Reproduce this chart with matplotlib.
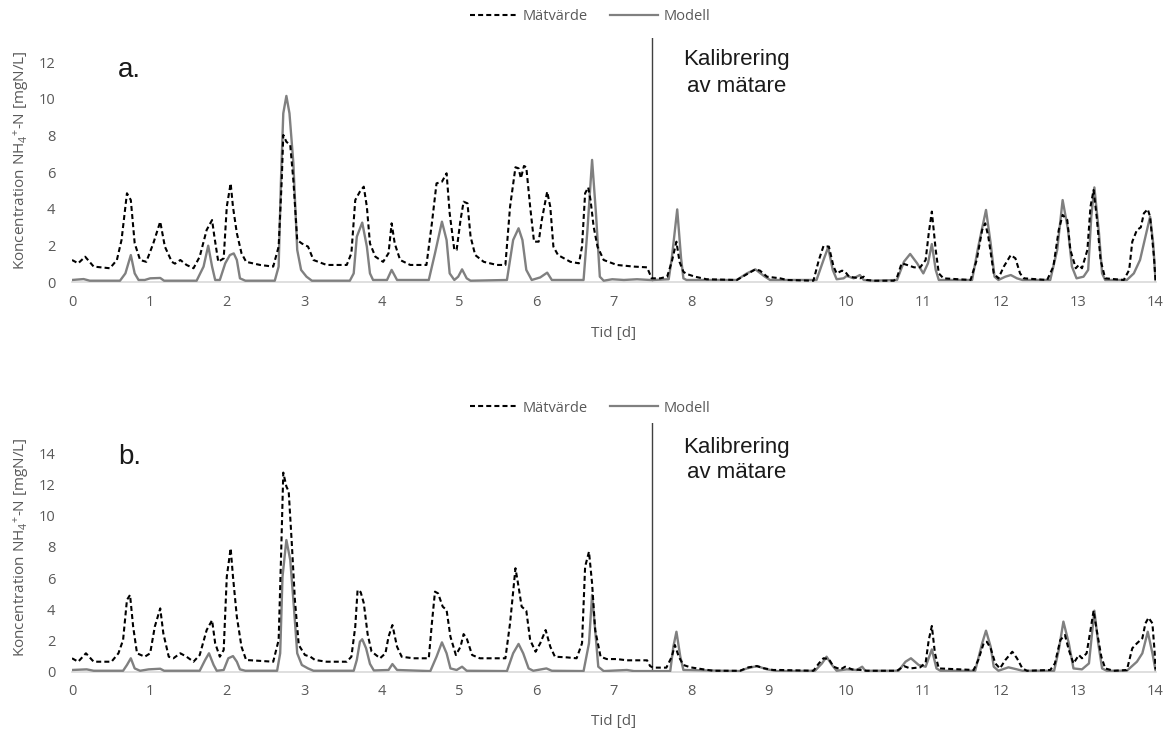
import matplotlib
matplotlib.use("Agg")
import matplotlib.pyplot as plt
from matplotlib.lines import Line2D

plt.rcParams["font.family"] = ["Open Sans", "DejaVu Sans"]
plt.rcParams["mathtext.default"] = "regular"

# ---- data: (time [d], concentration [mgN/L]) ----
a_meas = [(0.0, 1.2), (0.08, 1.02), (0.17, 1.38), (0.28, 0.84), (0.49, 0.75), (0.58, 1.2), (0.64, 2.29),
          (0.71, 4.84), (0.76, 4.47), (0.81, 2.11), (0.88, 1.2), (0.96, 1.1), (1.05, 2.1), (1.14, 3.29),
          (1.2, 1.93), (1.29, 1.1), (1.33, 1.0), (1.40, 1.2), (1.48, 0.93), (1.57, 0.75), (1.65, 1.38),
          (1.74, 2.84), (1.81, 3.38), (1.84, 2.47), (1.89, 1.1), (1.96, 1.29), (2.0, 4.11), (2.05, 5.38),
          (2.08, 4.1), (2.13, 2.66), (2.19, 1.57), (2.25, 1.1), (2.43, 0.93), (2.60, 0.84), (2.67, 1.93),
          (2.71, 5.56), (2.73, 8.02), (2.77, 7.65), (2.82, 7.47), (2.86, 5.56), (2.91, 2.29), (2.97, 2.1),
          (3.05, 1.93), (3.12, 1.2), (3.29, 0.93), (3.55, 0.93), (3.61, 1.57), (3.66, 4.47), (3.72, 4.93),
          (3.77, 5.2), (3.81, 4.1), (3.85, 2.1), (3.92, 1.38), (4.02, 1.1), (4.09, 1.57), (4.13, 3.2),
          (4.17, 2.1), (4.24, 1.2), (4.37, 0.93), (4.58, 0.93), (4.65, 3.2), (4.71, 5.38), (4.78, 5.47),
          (4.84, 5.93), (4.88, 3.75), (4.94, 1.75), (4.97, 1.75), (5.02, 3.38), (5.06, 4.38), (5.11, 4.29),
          (5.15, 2.47), (5.21, 1.47), (5.32, 1.1), (5.49, 0.93), (5.60, 0.93), (5.66, 4.1), (5.73, 6.26),
          (5.77, 6.2), (5.80, 5.66), (5.84, 6.33), (5.87, 6.26), (5.92, 4.1), (5.97, 2.2), (6.03, 2.2),
          (6.07, 3.38), (6.14, 4.93), (6.18, 4.1), (6.22, 1.93), (6.28, 1.47), (6.44, 1.1), (6.55, 1.02),
          (6.59, 1.93), (6.63, 4.84), (6.67, 5.16), (6.70, 4.47), (6.74, 3.02), (6.79, 1.93), (6.87, 1.2),
          (7.04, 0.93), (7.26, 0.84), (7.43, 0.8), (7.49, 0.2), (7.60, 0.2), (7.69, 0.29), (7.75, 1.11),
          (7.81, 2.2), (7.85, 1.1), (7.90, 0.56), (7.94, 0.44), (8.05, 0.29), (8.20, 0.15), (8.59, 0.11),
          (8.68, 0.33), (8.83, 0.69), (8.89, 0.62), (8.98, 0.29), (9.15, 0.2), (9.24, 0.11), (9.58, 0.07),
          (9.65, 1.2), (9.71, 1.96), (9.78, 1.93), (9.84, 0.84), (9.88, 0.47), (9.95, 0.62), (9.99, 0.56),
          (10.04, 0.29), (10.10, 0.25), (10.18, 0.2), (10.23, 0.29), (10.27, 0.11), (10.36, 0.07),
          (10.62, 0.07), (10.66, 0.25), (10.72, 1.02), (10.79, 0.93), (10.88, 0.8), (10.96, 0.8),
          (11.03, 1.2), (11.07, 2.66), (11.11, 3.84), (11.16, 1.75), (11.20, 0.47), (11.26, 0.2),
          (11.61, 0.11), (11.69, 1.2), (11.76, 2.84), (11.80, 3.2), (11.84, 2.47), (11.91, 0.47),
          (11.97, 0.2), (12.04, 0.84), (12.13, 1.47), (12.19, 1.29), (12.25, 0.47), (12.30, 0.2),
          (12.60, 0.11), (12.68, 0.84), (12.75, 2.84), (12.80, 3.66), (12.86, 3.38), (12.90, 1.75),
          (12.97, 0.75), (13.01, 0.93), (13.05, 0.75), (13.12, 1.75), (13.16, 4.11), (13.20, 5.02),
          (13.24, 3.56), (13.29, 1.2), (13.35, 0.2), (13.59, 0.11), (13.66, 0.66), (13.70, 2.2),
          (13.76, 2.84), (13.81, 2.98), (13.85, 3.75), (13.90, 3.97), (13.93, 3.56), (13.98, 1.38),
          (14.0, 0.1)]

a_model = [(0.0, 0.11), (0.15, 0.16), (0.23, 0.07), (0.62, 0.07), (0.69, 0.47), (0.76, 1.47), (0.81, 0.47),
           (0.86, 0.11), (0.94, 0.11), (1.01, 0.2), (1.14, 0.22), (1.19, 0.07), (1.61, 0.07), (1.70, 0.84),
           (1.76, 1.98), (1.81, 0.84), (1.85, 0.11), (1.91, 0.11), (1.98, 1.02), (2.04, 1.47), (2.09, 1.56),
           (2.13, 1.2), (2.17, 0.2), (2.24, 0.07), (2.62, 0.07), (2.67, 0.84), (2.70, 5.56), (2.73, 9.2),
           (2.77, 10.15), (2.81, 9.2), (2.86, 6.5), (2.91, 1.75), (2.96, 0.66), (3.03, 0.29), (3.10, 0.07),
           (3.59, 0.07), (3.64, 0.47), (3.68, 2.47), (3.75, 3.24), (3.81, 1.93), (3.85, 0.47), (3.89, 0.11),
           (4.07, 0.11), (4.13, 0.66), (4.20, 0.11), (4.61, 0.11), (4.69, 1.56), (4.78, 3.29), (4.84, 2.29),
           (4.88, 0.47), (4.94, 0.11), (4.99, 0.29), (5.04, 0.69), (5.10, 0.2), (5.15, 0.07), (5.62, 0.11),
           (5.70, 2.29), (5.77, 2.93), (5.82, 2.29), (5.87, 0.66), (5.94, 0.11), (6.05, 0.25), (6.14, 0.51),
           (6.20, 0.11), (6.61, 0.11), (6.66, 2.84), (6.72, 6.66), (6.77, 3.75), (6.82, 0.29), (6.87, 0.07),
           (6.98, 0.15), (7.13, 0.11), (7.30, 0.15), (7.47, 0.11), (7.51, 0.11), (7.71, 0.15), (7.75, 1.29),
           (7.82, 3.96), (7.87, 1.29), (7.90, 0.2), (7.94, 0.11), (8.59, 0.11), (8.72, 0.47), (8.83, 0.69),
           (8.94, 0.33), (9.02, 0.11), (9.62, 0.11), (9.71, 1.2), (9.77, 1.89), (9.83, 0.66), (9.88, 0.15),
           (9.97, 0.2), (10.01, 0.33), (10.10, 0.2), (10.18, 0.38), (10.23, 0.11), (10.36, 0.07),
           (10.66, 0.11), (10.75, 1.11), (10.83, 1.53), (10.92, 1.02), (11.00, 0.47), (11.06, 1.02),
           (11.11, 2.07), (11.16, 0.66), (11.20, 0.11), (11.63, 0.11), (11.71, 1.93), (11.81, 3.93),
           (11.87, 2.11), (11.92, 0.29), (11.97, 0.11), (12.06, 0.29), (12.13, 0.38), (12.21, 0.2),
           (12.28, 0.11), (12.64, 0.11), (12.73, 1.75), (12.80, 4.47), (12.87, 2.84), (12.92, 0.84),
           (12.98, 0.2), (13.07, 0.29), (13.13, 0.66), (13.17, 3.56), (13.21, 5.16), (13.27, 2.66),
           (13.31, 0.47), (13.35, 0.11), (13.63, 0.11), (13.72, 0.47), (13.80, 1.2), (13.87, 2.47),
           (13.93, 3.56), (13.97, 2.11), (14.0, 0.11)]

b_meas = [(0.0, 0.86), (0.08, 0.64), (0.18, 1.18), (0.28, 0.64), (0.51, 0.64), (0.60, 1.18), (0.66, 2.03),
          (0.71, 4.6), (0.75, 4.92), (0.79, 2.89), (0.84, 1.18), (0.94, 0.96), (1.01, 1.18), (1.07, 2.89),
          (1.14, 4.06), (1.18, 2.46), (1.25, 0.96), (1.31, 0.86), (1.40, 1.18), (1.48, 0.96), (1.57, 0.64),
          (1.65, 1.07), (1.74, 2.67), (1.81, 3.3), (1.85, 1.82), (1.91, 0.96), (1.96, 1.39), (2.0, 6.09),
          (2.05, 7.91), (2.08, 6.09), (2.13, 3.52), (2.19, 1.6), (2.25, 0.75), (2.60, 0.64), (2.67, 2.03),
          (2.70, 7.16), (2.73, 12.76), (2.77, 11.87), (2.80, 11.55), (2.84, 8.23), (2.88, 4.6), (2.93, 1.71),
          (2.97, 1.39), (3.01, 1.07), (3.08, 0.96), (3.14, 0.75), (3.29, 0.64), (3.55, 0.64), (3.61, 0.96),
          (3.66, 2.89), (3.69, 5.24), (3.73, 5.1), (3.77, 4.4), (3.82, 2.4), (3.87, 1.3), (3.98, 0.86),
          (4.05, 1.18), (4.09, 2.24), (4.14, 2.99), (4.20, 1.6), (4.26, 0.96), (4.41, 0.86), (4.61, 0.86),
          (4.65, 3.1), (4.69, 5.13), (4.73, 5.02), (4.79, 4.17), (4.84, 3.95), (4.89, 2.24), (4.96, 1.07),
          (5.02, 1.6), (5.06, 2.41), (5.10, 2.14), (5.17, 1.07), (5.27, 0.86), (5.60, 0.86), (5.66, 3.1),
          (5.73, 6.63), (5.77, 5.45), (5.81, 4.17), (5.87, 3.91), (5.92, 2.03), (5.99, 1.28), (6.05, 1.82),
          (6.12, 2.67), (6.18, 1.6), (6.24, 0.96), (6.39, 0.92), (6.52, 0.86), (6.59, 1.82), (6.63, 6.73),
          (6.68, 7.69), (6.72, 5.66), (6.76, 2.67), (6.83, 0.96), (6.91, 0.81), (7.04, 0.81), (7.17, 0.73),
          (7.43, 0.73), (7.47, 0.36), (7.51, 0.26), (7.68, 0.26), (7.75, 0.96), (7.79, 1.71), (7.84, 0.96),
          (7.90, 0.43), (7.99, 0.28), (8.16, 0.15), (8.29, 0.06), (8.63, 0.06), (8.74, 0.28), (8.85, 0.36),
          (8.94, 0.22), (9.06, 0.11), (9.15, 0.11), (9.58, 0.06), (9.65, 0.53), (9.71, 0.86), (9.78, 0.81),
          (9.84, 0.32), (9.93, 0.15), (9.99, 0.32), (10.08, 0.15), (10.19, 0.11), (10.27, 0.06),
          (10.66, 0.06), (10.75, 0.36), (10.83, 0.21), (10.96, 0.28), (11.03, 0.58), (11.07, 2.03),
          (11.11, 2.93), (11.15, 1.18), (11.20, 0.21), (11.65, 0.11), (11.71, 0.75), (11.78, 1.82),
          (11.82, 1.92), (11.87, 1.5), (11.93, 0.53), (11.99, 0.21), (12.06, 0.75), (12.15, 1.28),
          (12.21, 0.86), (12.28, 0.21), (12.34, 0.06), (12.64, 0.11), (12.70, 0.53), (12.77, 2.03),
          (12.83, 2.35), (12.88, 1.39), (12.94, 0.53), (13.01, 1.07), (13.05, 0.86), (13.11, 1.18),
          (13.16, 2.67), (13.20, 3.91), (13.24, 2.67), (13.30, 0.96), (13.35, 0.21), (13.46, 0.06),
          (13.63, 0.11), (13.70, 1.5), (13.76, 1.82), (13.83, 2.14), (13.87, 3.1), (13.91, 3.46),
          (13.96, 3.1), (13.99, 1.18), (14.0, 0.15)]

b_model = [(0.0, 0.11), (0.19, 0.15), (0.28, 0.06), (0.66, 0.06), (0.71, 0.43), (0.76, 0.86), (0.81, 0.21),
           (0.88, 0.06), (0.99, 0.15), (1.14, 0.19), (1.19, 0.06), (1.65, 0.06), (1.72, 0.75), (1.77, 1.18),
           (1.83, 0.43), (1.87, 0.06), (1.96, 0.11), (2.02, 0.86), (2.08, 1.0), (2.13, 0.64), (2.17, 0.15),
           (2.24, 0.06), (2.65, 0.06), (2.69, 1.18), (2.72, 6.09), (2.77, 8.44), (2.82, 7.16), (2.87, 3.95),
           (2.91, 1.18), (2.97, 0.43), (3.05, 0.21), (3.12, 0.06), (3.64, 0.06), (3.68, 0.75), (3.72, 1.92),
           (3.75, 2.08), (3.80, 1.5), (3.85, 0.5), (3.90, 0.08), (4.09, 0.11), (4.14, 0.49), (4.20, 0.11),
           (4.63, 0.04), (4.71, 0.96), (4.78, 1.88), (4.84, 1.18), (4.89, 0.21), (4.97, 0.11), (5.04, 0.32),
           (5.10, 0.06), (5.62, 0.04), (5.70, 1.18), (5.77, 1.78), (5.83, 1.18), (5.90, 0.21), (5.96, 0.06),
           (6.13, 0.21), (6.20, 0.06), (6.61, 0.04), (6.68, 1.82), (6.72, 4.92), (6.76, 2.67), (6.80, 0.32),
           (6.87, 0.04), (7.17, 0.11), (7.26, 0.04), (7.73, 0.04), (7.77, 1.6), (7.81, 2.56), (7.86, 0.96),
           (7.90, 0.11), (8.63, 0.04), (8.72, 0.21), (8.85, 0.36), (8.98, 0.15), (9.11, 0.04), (9.60, 0.06),
           (9.69, 0.53), (9.75, 0.96), (9.82, 0.43), (9.88, 0.06), (10.01, 0.15), (10.14, 0.11),
           (10.21, 0.32), (10.25, 0.06), (10.68, 0.06), (10.77, 0.64), (10.84, 0.86), (10.94, 0.43),
           (11.03, 0.32), (11.11, 1.43), (11.17, 0.21), (11.22, 0.06), (11.67, 0.06), (11.76, 1.82),
           (11.81, 2.63), (11.87, 1.6), (11.91, 0.32), (11.97, 0.06), (12.10, 0.28), (12.21, 0.15),
           (12.28, 0.06), (12.69, 0.06), (12.75, 1.39), (12.81, 3.21), (12.88, 1.82), (12.94, 0.21),
           (13.05, 0.15), (13.14, 0.53), (13.21, 3.91), (13.26, 1.82), (13.31, 0.21), (13.37, 0.06),
           (13.63, 0.06), (13.76, 0.64), (13.83, 1.18), (13.90, 2.56), (13.96, 1.18), (14.0, 0.11)]

x_ticks = list(range(0, 15))
a_yticks = [0, 2, 4, 6, 8, 10, 12]
b_yticks = [0, 2, 4, 6, 8, 10, 12, 14]
calibration_day = 7.5
series_labels = ["Mätvärde", "Modell"]
ylabel = r"Koncentration NH$_4$$^{+}$-N [mgN/L]"
xlabel = "Tid [d]"
note_lines = ["Kalibrering", "av mätare"]

# ---- styling ----
W, H = 1174, 733
MEAS_C = "#000000"
MODEL_C = "#808080"
TICK_C = "#595959"
DASH = (2.4, 1.5)

fig = plt.figure(figsize=(W / 100, H / 100), dpi=100)


def px_axes(left, top, right, bottom):
    return fig.add_axes([left / W, 1 - bottom / H, (right - left) / W, (bottom - top) / H])


def draw_panel(ax, meas, model, yticks, ymax, letter, letter_y, note_y):
    tm, vm = zip(*meas)
    tn, vn = zip(*model)
    ax.plot(tn, vn, color=MODEL_C, lw=1.7, solid_joinstyle="round", zorder=3)
    ax.plot(tm, vm, color=MEAS_C, lw=1.5, dashes=DASH, zorder=4)
    ax.axvline(calibration_day, color="#404040", lw=1.0, zorder=2)
    ax.set_xlim(0, 14)
    ax.set_ylim(0, ymax)
    ax.set_xticks(x_ticks)
    ax.set_yticks(yticks)
    for s in ("top", "right", "left"):
        ax.spines[s].set_visible(False)
    ax.spines["bottom"].set_color("#d9d9d9")
    ax.spines["bottom"].set_linewidth(1.2)
    ax.tick_params(length=0, labelsize=10.5, labelcolor=TICK_C)
    ax.tick_params(axis="x", pad=9)
    ax.tick_params(axis="y", pad=12)
    ax.set_ylabel(ylabel, fontsize=11, color=TICK_C)
    ax.yaxis.set_label_coords(-0.038, 0.5)
    ax.set_xlabel(xlabel, fontsize=11, color=TICK_C)
    ax.text(0.0425, letter_y, letter, transform=ax.transAxes, fontsize=20,
            family="Liberation Sans", color="#1a1a1a", va="baseline", ha="left")
    for line, y in zip(note_lines, note_y):
        ax.text(0.613, y, line, transform=ax.transAxes, fontsize=16,
                family="Liberation Sans", color="#1a1a1a", va="baseline", ha="center")


def draw_legend(y_px):
    handles = [Line2D([], [], color=MEAS_C, lw=1.5, dashes=DASH),
               Line2D([], [], color=MODEL_C, lw=1.6)]
    leg = fig.legend(handles, series_labels, loc="center", bbox_to_anchor=(590 / W, 1 - y_px / H),
                     ncol=2, frameon=False, fontsize=10.5, handlelength=3.3, handletextpad=0.35,
                     columnspacing=1.5, borderpad=0.0)
    for t in leg.get_texts():
        t.set_color(TICK_C)


ax_a = px_axes(72, 38, 1155.5, 282)
draw_panel(ax_a, a_meas, a_model, a_yticks, 13.31, "a.", 0.84, (0.889, 0.779))
ax_a.xaxis.set_label_coords(0.5, -0.18)

ax_b = px_axes(72, 423, 1155.5, 671.7)
draw_panel(ax_b, b_meas, b_model, b_yticks, 15.94, "b.", 0.835, (0.879, 0.779))
ax_b.xaxis.set_label_coords(0.5, -0.172)

draw_legend(17)
draw_legend(408)

fig.savefig("out.png", dpi=100)
